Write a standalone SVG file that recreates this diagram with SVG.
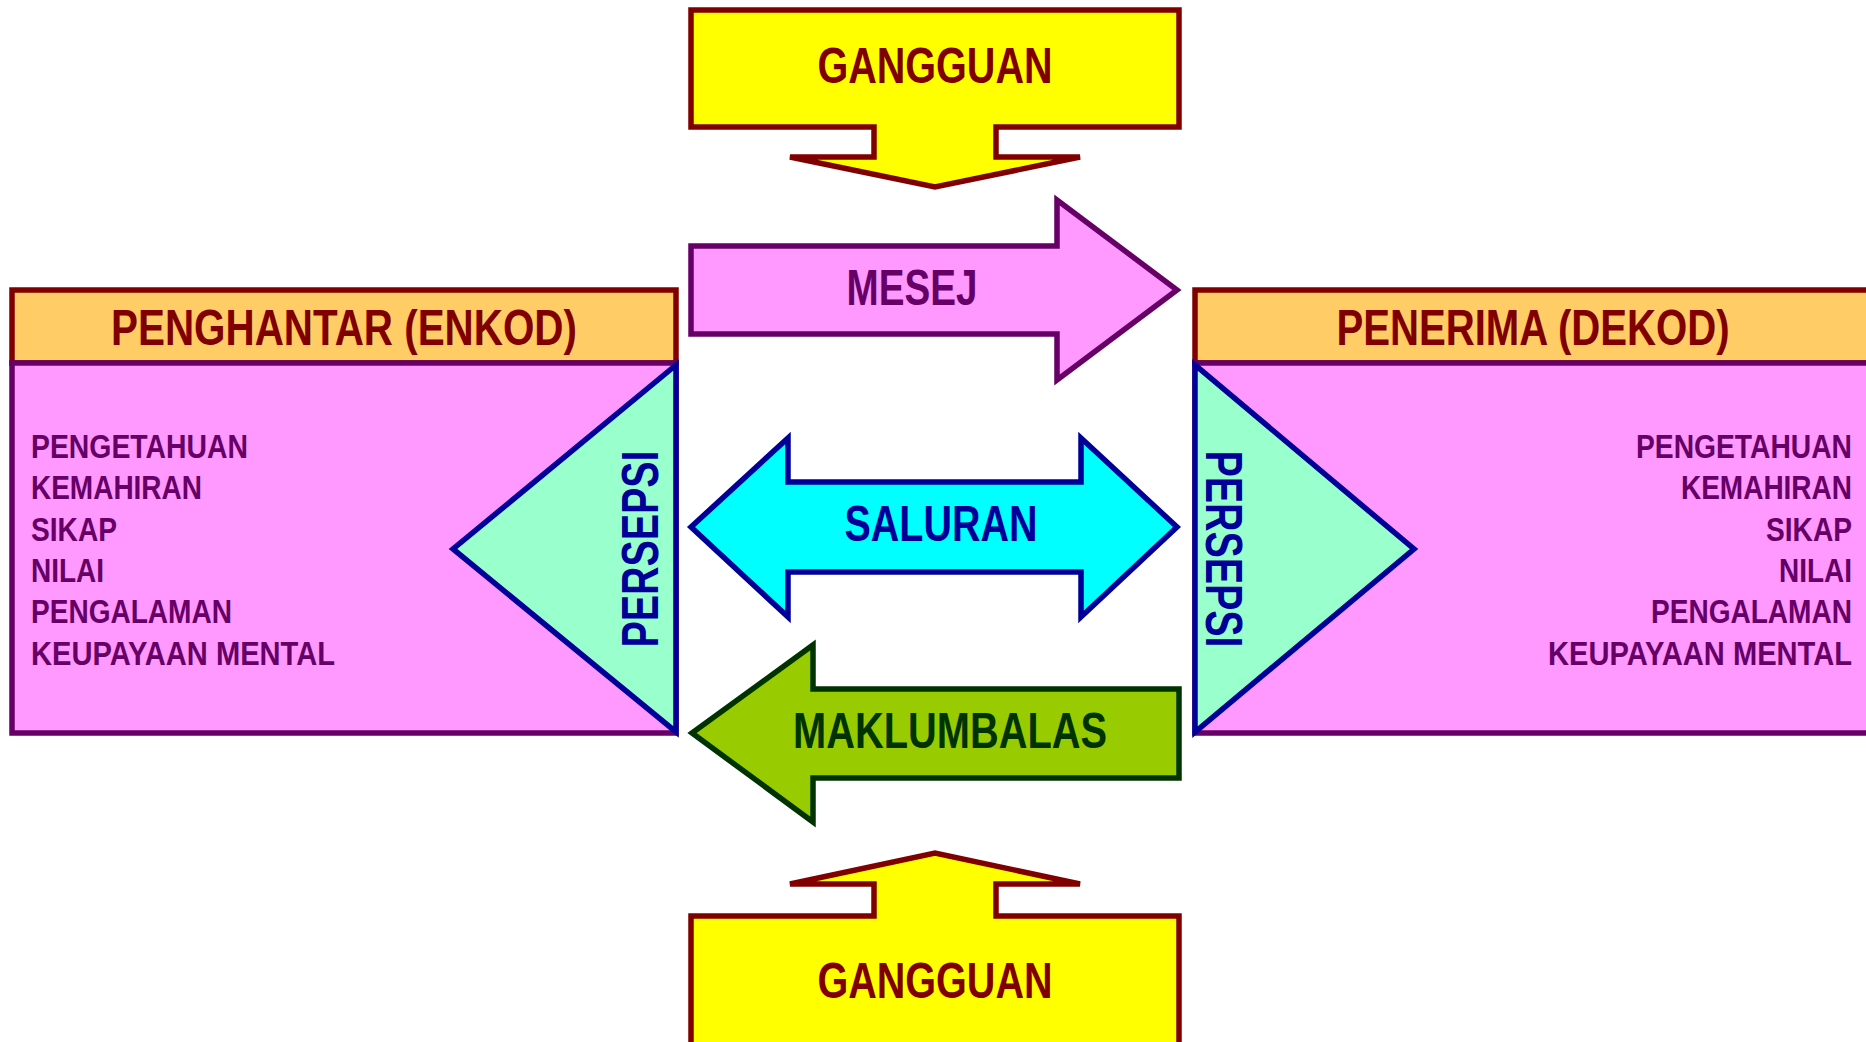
<svg xmlns="http://www.w3.org/2000/svg" width="1866" height="1042" viewBox="0 0 1866 1042">
<style>
text{font-family:"Liberation Sans Narrow","Liberation Sans",Arial,sans-serif;font-weight:bold;}
.big{font-size:50px;text-anchor:middle;}
.item{font-size:32.5px;fill:#660066;}
.per{font-family:"Liberation Sans",Arial,sans-serif;font-size:52px;fill:#000099;text-anchor:middle;}
.gang{fill:#FFFF00;stroke:#800000;stroke-width:5.5;stroke-miterlimit:4;}
.hdr{fill:#FFCC66;stroke:#800000;stroke-width:5.5;}
.body{fill:#FF99FF;stroke:#660066;stroke-width:5.5;}
.tri{fill:#99FFCC;stroke:#000099;stroke-width:5.5;stroke-linejoin:miter;stroke-miterlimit:20;}
</style>
<rect width="1866" height="1042" fill="#FFFFFF"/>

<g id="gangguan-top">
<polygon class="gang" points="691,10 1179,10 1179,127 996,127 996,157 1080,157 935,187 790,157 874,157 874,127 691,127"/>
<text class="big" x="935" y="83" fill="#800000" textLength="235" lengthAdjust="spacingAndGlyphs">GANGGUAN</text>
</g>

<g id="mesej">
<polygon points="691,246 1057,246 1057,200 1177,290 1057,380 1057,334 691,334" fill="#FF99FF" stroke="#660066" stroke-width="5.5"/>
<text class="big" x="912" y="305" fill="#660066" textLength="131" lengthAdjust="spacingAndGlyphs">MESEJ</text>
</g>

<g id="saluran">
<polygon points="691,527 788,438 788,482 1081,482 1081,438 1177,527 1081,617 1081,572 788,572 788,617" fill="#00FFFF" stroke="#000099" stroke-width="5.5"/>
<text class="big" x="941" y="541" fill="#000099" textLength="193" lengthAdjust="spacingAndGlyphs">SALURAN</text>
</g>

<g id="maklumbalas">
<polygon points="692,733 813,645 813,689 1179,689 1179,778 813,778 813,822" fill="#99CC00" stroke="#003300" stroke-width="5.5"/>
<text class="big" x="950" y="748" fill="#003300" textLength="314" lengthAdjust="spacingAndGlyphs">MAKLUMBALAS</text>
</g>

<g id="gangguan-bottom">
<polygon class="gang" points="691,1060 691,916 874,916 874,884 790,884 935,853 1080,884 996,884 996,916 1179,916 1179,1060"/>
<text class="big" x="935" y="998" fill="#800000" textLength="235" lengthAdjust="spacingAndGlyphs">GANGGUAN</text>
</g>

<g id="penghantar">
<rect class="hdr" x="12" y="290" width="664" height="73"/>
<text class="big" x="344" y="345" fill="#800000" textLength="466" lengthAdjust="spacingAndGlyphs">PENGHANTAR (ENKOD)</text>
<rect class="body" x="12" y="363" width="664" height="370"/>
<text class="item" x="31" y="458" textLength="217" lengthAdjust="spacingAndGlyphs">PENGETAHUAN</text>
<text class="item" x="31" y="499" textLength="171" lengthAdjust="spacingAndGlyphs">KEMAHIRAN</text>
<text class="item" x="31" y="541" textLength="86" lengthAdjust="spacingAndGlyphs">SIKAP</text>
<text class="item" x="31" y="582" textLength="73" lengthAdjust="spacingAndGlyphs">NILAI</text>
<text class="item" x="31" y="623" textLength="201" lengthAdjust="spacingAndGlyphs">PENGALAMAN</text>
<text class="item" x="31" y="665" textLength="304" lengthAdjust="spacingAndGlyphs">KEUPAYAAN MENTAL</text>
<polygon class="tri" points="676,365 676,732 453,549"/>
<text class="per" transform="translate(658,549) rotate(-90)" x="0" y="0" textLength="197" lengthAdjust="spacingAndGlyphs">PERSEPSI</text>
</g>

<g id="penerima">
<rect class="hdr" x="1195" y="290" width="690" height="73"/>
<text class="big" x="1533" y="345" fill="#800000" textLength="393" lengthAdjust="spacingAndGlyphs">PENERIMA (DEKOD)</text>
<rect class="body" x="1195" y="363" width="690" height="370"/>
<text class="item" x="1852" y="458" text-anchor="end" textLength="216" lengthAdjust="spacingAndGlyphs">PENGETAHUAN</text>
<text class="item" x="1852" y="499" text-anchor="end" textLength="171" lengthAdjust="spacingAndGlyphs">KEMAHIRAN</text>
<text class="item" x="1852" y="541" text-anchor="end" textLength="86" lengthAdjust="spacingAndGlyphs">SIKAP</text>
<text class="item" x="1852" y="582" text-anchor="end" textLength="73" lengthAdjust="spacingAndGlyphs">NILAI</text>
<text class="item" x="1852" y="623" text-anchor="end" textLength="201" lengthAdjust="spacingAndGlyphs">PENGALAMAN</text>
<text class="item" x="1852" y="665" text-anchor="end" textLength="304" lengthAdjust="spacingAndGlyphs">KEUPAYAAN MENTAL</text>
<polygon class="tri" points="1195,365 1195,732 1414,549"/>
<text class="per" transform="translate(1206,549) rotate(90)" x="0" y="0" textLength="197" lengthAdjust="spacingAndGlyphs">PERSEPSI</text>
</g>

<g id="connectors"></g>
</svg>
